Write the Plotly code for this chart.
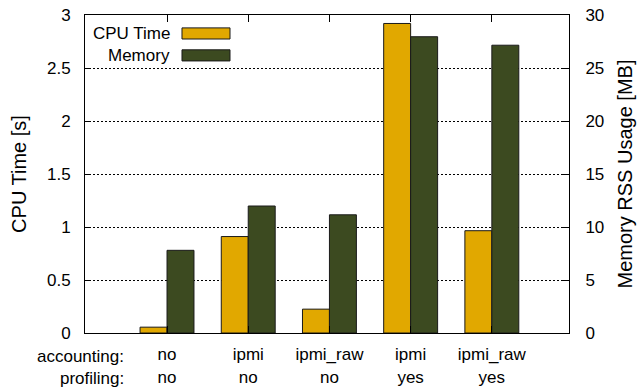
import plotly.graph_objects as go

# ---- data ----
positions = [0, 1, 2, 3, 4]
accounting = ["no", "ipmi", "ipmi_raw", "ipmi", "ipmi_raw"]
profiling = ["no", "no", "no", "yes", "yes"]
cpu_time = [0.055, 0.91, 0.225, 2.92, 0.965]          # seconds
memory_mb = [7.8, 11.98, 11.15, 27.95, 27.15]        # MB

CPU_COLOR = "#E1A800"
MEM_COLOR = "#3C4A20"
FONT = dict(family="Liberation Sans, Arial, Helvetica, sans-serif", size=17, color="black")

fig = go.Figure()
fig.add_trace(go.Bar(
    x=positions, y=cpu_time, name="CPU Time",
    marker=dict(color=CPU_COLOR, line=dict(color="#1a1a1a", width=1)),
    width=0.332, offset=-0.332, yaxis="y", showlegend=False,
))
fig.add_trace(go.Bar(
    x=positions, y=memory_mb, name="Memory",
    marker=dict(color=MEM_COLOR, line=dict(color="#1a1a1a", width=1)),
    width=0.332, offset=0.0, yaxis="y2", showlegend=False,
))

ticktext = [f"{a}<br>{p}" for a, p in zip(accounting, profiling)]

fig.update_layout(
    width=641, height=387,
    margin=dict(l=85, r=72, t=15, b=54, autoexpand=False),
    paper_bgcolor="white", plot_bgcolor="white",
    font=FONT,
    showlegend=False,
    xaxis=dict(
        range=[-1.01, 4.95], automargin=False,
        tickmode="array", tickvals=positions, ticktext=ticktext,
        ticks="inside", ticklen=7, tickcolor="black",
        showline=True, linecolor="black", linewidth=1, mirror="ticks",
        showgrid=False, zeroline=False, ticklabelstandoff=6,
    ),
    yaxis=dict(
        range=[0, 3], dtick=0.5, automargin=False,
        title=dict(text="CPU Time [s]", standoff=14),
        ticks="inside", ticklen=6, tickcolor="black",
        showline=True, linecolor="black", linewidth=1, mirror=True,
        showgrid=True, gridcolor="black", gridwidth=1, griddash="2px,2px",
        zeroline=False, ticklabelstandoff=10, ticklabeloverflow="allow",
    ),
    yaxis2=dict(
        range=[0, 30], dtick=5, automargin=False,
        title=dict(text="Memory RSS Usage [MB]", standoff=14),
        overlaying="y", side="right",
        ticks="inside", ticklen=6, tickcolor="black",
        showline=True, linecolor="black", linewidth=1,
        showgrid=False, zeroline=False, ticklabelstandoff=12,
        ticklabeloverflow="allow",
    ),
)

# row labels for the two-line category axis
fig.add_annotation(text="accounting:", xref="paper", yref="paper", x=0.085, y=0,
                   xanchor="right", yanchor="middle", yshift=-23, showarrow=False, font=FONT)
fig.add_annotation(text="profiling:", xref="paper", yref="paper", x=0.085, y=0,
                   xanchor="right", yanchor="middle", yshift=-45, showarrow=False, font=FONT)

# gnuplot-style legend (text right-aligned, sample box to the right)
legend_items = [("CPU Time", CPU_COLOR, 0.942), ("Memory", MEM_COLOR, 0.873)]
for label, color, yc in legend_items:
    fig.add_annotation(text=label, xref="paper", yref="paper", x=0.18, y=yc,
                       xanchor="right", yanchor="middle", showarrow=False, font=FONT)
    fig.add_shape(type="rect", xref="paper", yref="paper",
                  x0=0.2004, x1=0.2996, y0=yc - 0.0175, y1=yc + 0.0175,
                  fillcolor=color, line=dict(color="#1a1a1a", width=1))

# remove the browser's default 8px body margin so the figure fills the window
fig.write_html("out.html", config={"displayModeBar": False},
               post_script="document.body.style.margin='0';")
